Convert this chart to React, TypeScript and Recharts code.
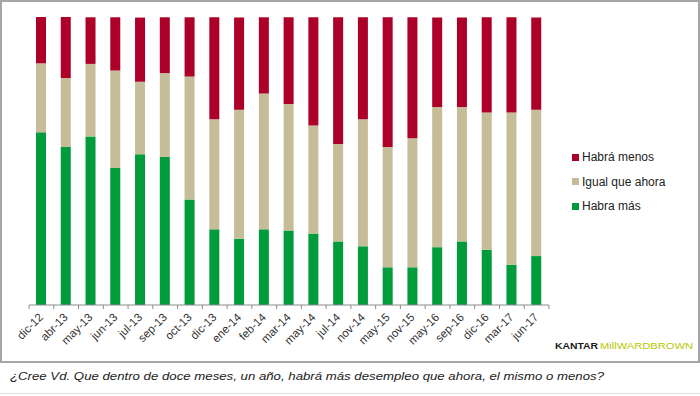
import React from 'react';
import { BarChart, Bar, XAxis, YAxis, Legend } from 'recharts';

const categories = ['dic-12','abr-13','may-13','jun-13','jul-13','sep-13','oct-13','dic-13','ene-14','feb-14','mar-14','may-14','jul-14','nov-14','may-15','nov-15','may-16','sep-16','dic-16','mar-17','jun-17'];
const habraMas = [60.0,54.9,58.6,47.6,52.4,51.5,36.7,26.3,23.0,26.3,25.9,24.8,22.1,20.4,13.1,13.1,20.1,22.1,19.2,14.0,17.0];
const igual = [24.0,24.0,25.2,33.9,25.2,29.1,42.7,38.3,44.9,47.2,44.0,37.6,33.9,44.2,41.8,44.9,48.7,46.7,47.7,52.9,50.9];
const habraMenos = [16.1,21.2,16.2,18.5,22.3,19.4,20.6,35.4,32.0,26.5,30.1,37.6,44.0,35.4,45.1,42.0,31.1,31.1,33.1,33.1,32.0];

const data = categories.map((c, i) => ({ name: c, mas: habraMas[i], igual: igual[i], menos: habraMenos[i] }));

const RED = '#AD0029';
const BEIGE = '#C4BD97';
const GREEN = '#009B3A';

const PLOT_LEFT = 29;
const PLOT_RIGHT = 549;
const AXIS_Y = 305;
const AXIS_H = 30;
const HALF = (PLOT_RIGHT - PLOT_LEFT) / categories.length / 2;

const Tick = (props: any) => {
  const { x, payload, index } = props;
  const tx = x + 2.5;
  const ty = AXIS_Y + 13;
  return (
    <g>
      <line x1={x - HALF} x2={x - HALF} y1={AXIS_Y} y2={AXIS_Y + 4} stroke="#8C8C8C" />
      {index === categories.length - 1 && (
        <line x1={x + HALF} x2={x + HALF} y1={AXIS_Y} y2={AXIS_Y + 4} stroke="#8C8C8C" />
      )}
      <text x={tx} y={ty} transform={`rotate(-45 ${tx} ${ty})`} textAnchor="end" fontSize={11.5}
        fontFamily="'Liberation Sans', Arial, sans-serif" fill="#333">{payload.value}</text>
    </g>
  );
};

const legendItems = [
  { label: 'Habrá menos', color: RED },
  { label: 'Igual que ahora', color: BEIGE },
  { label: 'Habra más', color: GREEN },
];

const LegendContent = () => (
  <div style={{ fontFamily: "'Liberation Sans', Arial, sans-serif", fontSize: 12, color: '#222' }}>
    {legendItems.map((it) => (
      <div key={it.label} style={{ display: 'flex', alignItems: 'center', height: 24.5 }}>
        <span style={{ display: 'inline-block', width: 7, height: 7, background: it.color, marginRight: 3 }} />
        <span>{it.label}</span>
      </div>
    ))}
  </div>
);

export default function App() {
  return (
    <div style={{ position: 'absolute', left: 0, top: 0, width: 700, height: 396, background: '#fff', overflow: 'hidden' }}>
      <div style={{ position: 'absolute', left: 0, top: 0, width: 696, height: 359, border: '2px solid #A6A6A6' }} />
      <div style={{ position: 'absolute', left: 0, top: 393, width: 700, height: 1, background: '#E0E0E0' }} />
      <div style={{ position: 'absolute', left: 0, top: 0 }}>
        <BarChart width={700} height={396} data={data}
          margin={{ top: 17, right: 700 - PLOT_RIGHT, bottom: 396 - AXIS_Y - AXIS_H, left: PLOT_LEFT }}>
          <XAxis dataKey="name" interval={0} tickLine={false} tickSize={0} height={AXIS_H}
            axisLine={{ stroke: '#8C8C8C' }} tick={<Tick />} />
          <YAxis hide domain={[0, 100]} />
          <Legend layout="vertical" verticalAlign="middle" align="center"
            wrapperStyle={{ position: 'absolute', left: 572, top: 145, width: 120 }} content={<LegendContent />} />
          <Bar dataKey="mas" stackId="a" fill={GREEN} barSize={10} isAnimationActive={false} />
          <Bar dataKey="igual" stackId="a" fill={BEIGE} barSize={10} isAnimationActive={false} />
          <Bar dataKey="menos" stackId="a" fill={RED} barSize={10} isAnimationActive={false} />
        </BarChart>
      </div>
      <svg style={{ position: 'absolute', left: 0, top: 330 }} width={700} height={30}>
        <text x={555} y={19} fontSize={9.5} fontWeight="bold" fontFamily="'Liberation Sans', Arial, sans-serif"
          fill="#1a1a1a" textLength={43} lengthAdjust="spacingAndGlyphs">KANTAR</text>
        <text x={600} y={19} fontSize={9.5} fontFamily="'Liberation Sans', Arial, sans-serif"
          fill="#B7C800" textLength={93} lengthAdjust="spacingAndGlyphs">MillWARDBROWN</text>
      </svg>
      <svg style={{ position: 'absolute', left: 0, top: 364 }} width={700} height={30}>
        <text x={10} y={16} fontSize={11.5} fontStyle="italic" fontFamily="'Liberation Sans', Arial, sans-serif"
          fill="#222" textLength={594} lengthAdjust="spacingAndGlyphs">¿Cree Vd. Que dentro de doce meses, un año, habrá más desempleo que ahora, el mismo o menos?</text>
      </svg>
    </div>
  );
}
